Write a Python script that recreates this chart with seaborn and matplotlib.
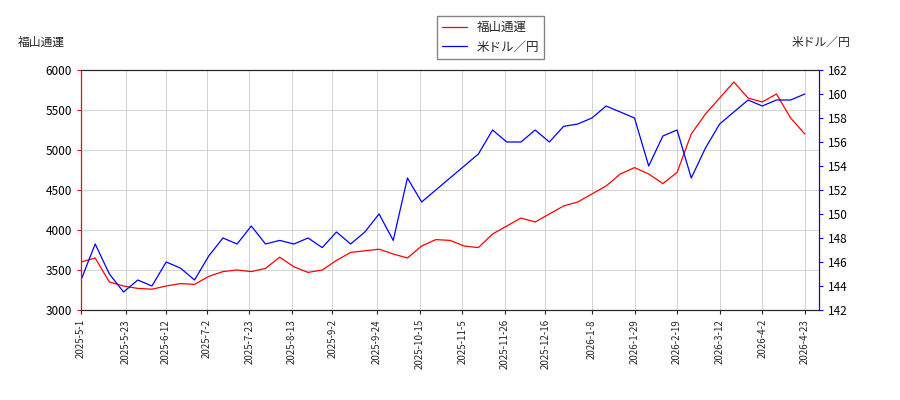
import matplotlib
matplotlib.use("Agg")
import matplotlib.pyplot as plt
import seaborn as sns
import pandas as pd
import numpy as np

sns.set_style("white")
plt.rcParams['font.family'] = ['Noto Sans CJK JP', 'DejaVu Sans']

stock = [3600, 3650, 3350, 3300, 3270, 3260, 3300, 3330, 3320, 3420, 3480, 3500, 3480,
         3520, 3660, 3540, 3470, 3500, 3620, 3720, 3740, 3760, 3700, 3650, 3800, 3880,
         3870, 3800, 3780, 3950, 4050, 4150, 4100, 4200, 4300, 4350, 4450, 4550, 4700,
         4780, 4700, 4580, 4720, 5200, 5450, 5650, 5850, 5650, 5600, 5700, 5400, 5200]
usdjpy = [144.5, 147.5, 145, 143.5, 144.5, 144, 146, 145.5, 144.5, 146.5, 148, 147.5, 149,
          147.5, 147.8, 147.5, 148, 147.2, 148.5, 147.5, 148.5, 150, 147.8, 153, 151, 152,
          153, 154, 155, 157, 156, 156, 157, 156, 157.3, 157.5, 158, 159, 158.5, 158, 154,
          156.5, 157, 153, 155.5, 157.5, 158.5, 159.5, 159, 159.5, 159.5, 160]
dates = pd.date_range("2025-05-01", periods=len(stock), freq="7D")
tick_labels = ["2025-5-1", "2025-5-23", "2025-6-12", "2025-7-2", "2025-7-23", "2025-8-13",
               "2025-9-2", "2025-9-24", "2025-10-15", "2025-11-5", "2025-11-26",
               "2025-12-16", "2026-1-8", "2026-1-29", "2026-2-19", "2026-3-12",
               "2026-4-2", "2026-4-23"]

df = pd.DataFrame({"date": dates, "stock": stock, "usdjpy": usdjpy})

fig = plt.figure(figsize=(9, 4), dpi=100)
ax = fig.add_axes([0.09, 0.225, 0.82, 0.6])
ax2 = ax.twinx()
sns.lineplot(data=df, x="date", y="stock", ax=ax, color="red", lw=0.9, label="福山通運", legend=False)
sns.lineplot(data=df, x="date", y="usdjpy", ax=ax2, color="blue", lw=0.9, label="米ドル／円", legend=False)

ax.set_ylim(3000, 6000)
ax2.set_ylim(142, 162)
ax2.set_yticks(range(142, 163, 2))
ax.set_xlim(pd.Timestamp("2025-05-01"), pd.Timestamp("2026-04-30"))
ticks = [pd.Timestamp(t) for t in tick_labels]
ax.set_xticks(ticks)
ax.set_xticklabels(tick_labels, rotation=90, fontsize=7)
ax.tick_params(axis='y', colors='red', labelsize=8.5, length=3, left=True)
ax.tick_params(axis='x', length=3, bottom=True)
ax2.tick_params(axis='y', colors='blue', labelsize=8.5, length=3, right=True)
for t in ax.get_yticklabels():
    t.set_color('black')
for t in ax2.get_yticklabels():
    t.set_color('black')
ax.spines['left'].set_color('red')
ax2.spines['left'].set_color('red')
ax2.spines['right'].set_color('blue')
ax.grid(True, color='#cccccc', lw=0.6)
ax.set_xlabel("")
ax.set_ylabel("")
ax2.set_ylabel("")

fig.text(0.02, 0.885, "福山通運", fontsize=8.5)
fig.text(0.945, 0.885, "米ドル／円", fontsize=8.5, ha='right')
h1, l1 = ax.get_legend_handles_labels()
h2, l2 = ax2.get_legend_handles_labels()
fig.legend(h1 + h2, l1 + l2, loc='upper center', bbox_to_anchor=(0.545, 0.975),
           fontsize=9, frameon=True, edgecolor='#666666', fancybox=False)

fig.savefig("out.png", dpi=100)
